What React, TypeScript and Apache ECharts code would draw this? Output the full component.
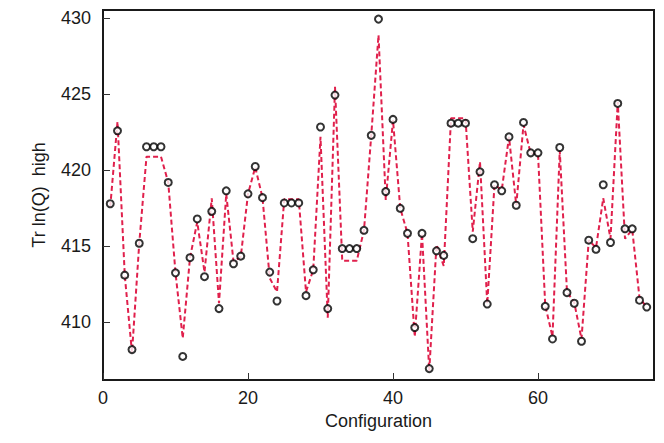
import React, { useEffect, useRef } from "react";
import * as echarts from "echarts";

const configurations = Array.from({ length: 75 }, (_, i) => i + 1);

const pointValues = [
  417.8, 422.6, 413.1, 408.2, 415.2, 421.55, 421.55, 421.55, 419.2, 413.25,
  407.75, 414.25, 416.8, 413.0, 417.3, 410.9, 418.65, 413.85, 414.35, 418.45,
  420.25, 418.2, 413.3, 411.4, 417.85, 417.85, 417.85, 411.75, 413.45, 422.85,
  410.9, 424.95, 414.85, 414.85, 414.85, 416.05, 422.3, 429.95, 418.6, 423.35,
  417.5, 415.85, 409.65, 415.85, 406.95, 414.7, 414.4, 423.1, 423.1, 423.1,
  415.5, 419.9, 411.2, 419.05, 418.65, 422.2, 417.7, 423.15, 421.15, 421.15,
  411.05, 408.9, 421.5, 411.95, 411.25, 408.75, 415.4, 414.8, 419.05, 415.25,
  424.4, 416.15, 416.15, 411.45, 411.0,
];

const fitValues = [
  417.6, 423.2, 413.1, 408.0, 415.2, 420.9, 420.9, 420.9, 419.2, 413.25,
  408.95, 414.25, 416.6, 413.3, 418.15, 411.25, 418.45, 414.0, 414.3, 418.45,
  420.2, 418.2, 412.9, 412.0, 418.1, 418.1, 418.1, 412.0, 413.45, 422.2,
  410.3, 425.5, 414.05, 414.05, 414.05, 416.05, 422.3, 428.9, 418.05, 423.3,
  417.5, 415.85, 409.05, 415.85, 406.8, 415.1, 413.7, 423.42, 423.42, 423.42,
  415.96, 420.57, 411.2, 419.05, 418.7, 422.2, 417.7, 423.0, 421.1, 421.1,
  411.1, 409.05, 421.3, 412.0, 411.3, 408.9, 415.4, 414.9, 418.16, 415.5,
  424.5, 415.5, 416.1, 411.6, 411.0,
];

const xTicks = [0, 20, 40, 60];
const yTicks = [410, 415, 420, 425, 430];

export default function App() {
  const ref = useRef<HTMLDivElement>(null);
  useEffect(() => {
    if (!ref.current) return;
    const chart = echarts.init(ref.current, null, { renderer: "svg" });
    const font = "Liberation Sans";
    const narrow = "'Liberation Sans Narrow', 'Liberation Sans', sans-serif";
    chart.setOption({
      animation: false,
      backgroundColor: "#ffffff",
      grid: {
        left: 103,
        right: 10,
        top: 10,
        bottom: 63,
        show: true,
        borderColor: "#1a1a1a",
        borderWidth: 2,
        backgroundColor: "transparent",
      },
      xAxis: {
        type: "value",
        min: 0,
        max: 76,
        name: "Configuration",
        nameLocation: "middle",
        nameGap: 32,
        nameTextStyle: { fontFamily: font, fontSize: 18, color: "#1a1a1a" },
        axisLine: { show: true, lineStyle: { color: "#1a1a1a", width: 2 } },
        axisTick: {
          show: true,
          inside: true,
          length: 7,
          customValues: xTicks,
          lineStyle: { color: "#333", width: 1 },
        },
        axisLabel: {
          customValues: xTicks,
          margin: 9,
          fontFamily: narrow,
          fontSize: 18,
          color: "#1a1a1a",
        },
        splitLine: { show: false },
      },
      yAxis: {
        type: "value",
        min: 406.2,
        max: 430.55,
        name: "Tr ln(Q)  high",
        nameLocation: "middle",
        nameGap: 55,
        nameTextStyle: { fontFamily: font, fontSize: 18, color: "#1a1a1a" },
        axisLine: { show: true, lineStyle: { color: "#1a1a1a", width: 2 } },
        axisTick: {
          show: true,
          inside: true,
          length: 7,
          customValues: yTicks,
          lineStyle: { color: "#333", width: 1 },
        },
        axisLabel: {
          customValues: yTicks,
          margin: 12,
          fontFamily: narrow,
          fontSize: 18,
          color: "#1a1a1a",
        },
        splitLine: { show: false },
      },
      series: [
        {
          type: "line",
          data: configurations.map((c, i) => [c, fitValues[i]]),
          showSymbol: false,
          symbol: "none",
          lineStyle: { color: "#e0204c", width: 2, type: [5, 3] },
          z: 2,
        },
        {
          type: "scatter",
          data: configurations.map((c, i) => [c, pointValues[i]]),
          symbol: "circle",
          symbolSize: 7,
          itemStyle: { color: "#ffffff", borderColor: "#000000", borderWidth: 2 },
          z: 3,
        },
      ],
    });
    return () => chart.dispose();
  }, []);
  return (
    <div
      ref={ref}
      style={{ position: "fixed", left: 0, top: 0, width: 664, height: 443 }}
    />
  );
}
